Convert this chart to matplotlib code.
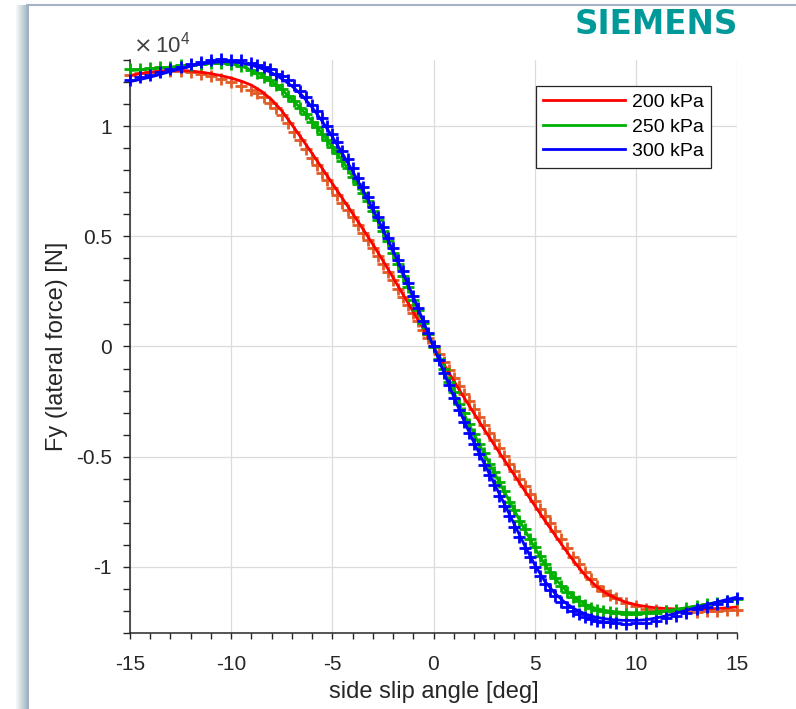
import numpy as np
import matplotlib
matplotlib.use('Agg')
import matplotlib.pyplot as plt
from matplotlib.ticker import MultipleLocator, FuncFormatter
from matplotlib.colors import LinearSegmentedColormap

plt.rcParams['font.family'] = ['Liberation Sans', 'DejaVu Sans']
plt.rcParams['axes.unicode_minus'] = False

# side slip angle of the fitted curves [deg]
slip = np.arange(-15.0, 15.01, 0.5)

# side slip angle of the measured points [deg] (denser where the force changes fast)
slip_meas = np.concatenate([np.arange(-15.0, -8.9, 0.5),
                            [-8.7, -8.4, -8.1, -7.8, -7.5, -7.2, -6.9, -6.6, -6.3],
                            np.arange(-6.0, 6.01, 0.25),
                            [6.3, 6.6, 6.9, 7.2, 7.5, 7.8, 8.1, 8.4, 8.7],
                            np.arange(9.0, 15.01, 0.5)])

# fitted curves, lateral force in kN
fit_200 = [12.30, 12.38, 12.45, 12.50, 12.53, 12.53, 12.50, 12.45, 12.38, 12.29,
           12.18, 12.04, 11.86, 11.58, 11.20, 10.70, 10.07, 9.42, 8.76, 8.08,
           7.40, 6.72, 6.04, 5.35, 4.64, 3.90, 3.13, 2.35, 1.57, 0.79,
           0.00, -0.78, -1.55, -2.30, -3.03, -3.75, -4.46, -5.15, -5.84, -6.53,
           -7.21, -7.89, -8.55, -9.20, -9.82, -10.38, -10.84, -11.18, -11.42, -11.60,
           -11.72, -11.80, -11.86, -11.89, -11.91, -11.92, -11.92, -11.91, -11.89, -11.86,
           -11.82]
fit_250 = [12.52, 12.55, 12.59, 12.63, 12.68, 12.73, 12.77, 12.81, 12.84, 12.85,
           12.82, 12.72, 12.55, 12.32, 12.02, 11.66, 11.22, 10.74, 10.22, 9.66,
           9.06, 8.42, 7.73, 6.98, 6.15, 5.24, 4.25, 3.21, 2.15, 1.08,
           0.00, -1.06, -2.08, -3.05, -3.97, -4.85, -5.72, -6.58, -7.45, -8.30,
           -9.12, -9.88, -10.52, -11.03, -11.42, -11.70, -11.88, -11.98, -12.04, -12.07,
           -12.08, -12.07, -12.04, -11.99, -11.93, -11.85, -11.77, -11.69, -11.61, -11.53,
           -11.45]
fit_300 = [12.02, 12.12, 12.22, 12.35, 12.48, 12.60, 12.72, 12.82, 12.88, 12.92,
           12.92, 12.87, 12.77, 12.62, 12.42, 12.15, 11.82, 11.40, 10.85, 10.22,
           9.52, 8.76, 7.96, 7.12, 6.24, 5.32, 4.36, 3.34, 2.26, 1.14,
           0.00, -1.15, -2.28, -3.36, -4.36, -5.30, -6.22, -7.14, -8.08, -9.02,
           -9.90, -10.65, -11.20, -11.62, -11.92, -12.14, -12.28, -12.36, -12.41, -12.43,
           -12.43, -12.40, -12.32, -12.22, -12.10, -11.97, -11.84, -11.72, -11.60, -11.48,
           -11.37]

# measured points, lateral force in kN
meas_200 = [12.33, 12.40, 12.44, 12.52, 12.51, 12.50, 12.44, 12.36, 12.27, 12.14, 12.00, 11.84, 11.64,
            11.49, 11.30, 11.07, 10.80, 10.50, 10.12, 9.74, 9.35, 8.96,
            8.57, 8.22, 7.88, 7.56, 7.21, 6.86, 6.52, 6.20, 5.86, 5.51, 5.17, 4.81, 4.48,
            4.09, 3.75, 3.36, 3.00, 2.62, 2.25, 1.88, 1.51, 1.14, 0.77, 0.38, 0.02,
            -0.36, -0.72, -1.08, -1.44, -1.79, -2.14, -2.49, -2.84, -3.20, -3.55, -3.92, -4.26,
            -4.62, -4.95, -5.31, -5.64, -6.00, -6.33, -6.68, -7.01, -7.36, -7.69, -8.03, -8.36,
            -8.75, -9.14, -9.53, -9.88, -10.25, -10.56, -10.85, -11.08, -11.28,
            -11.42, -11.63, -11.78, -11.89, -11.96, -12.00, -12.02, -12.04, -12.03, -12.02, -12.00, -11.97, -11.94]
meas_250 = [12.57, 12.58, 12.64, 12.66, 12.70, 12.77, 12.79, 12.84, 12.86, 12.88, 12.84, 12.75, 12.56,
            12.43, 12.25, 12.10, 11.86, 11.68, 11.38, 11.14, 10.82, 10.55,
            10.20, 9.96, 9.64, 9.38, 9.04, 8.76, 8.40, 8.10, 7.71, 7.38, 6.96, 6.59, 6.13,
            5.72, 5.22, 4.77, 4.23, 3.75, 3.19, 2.70, 2.13, 1.64, 1.06, 0.56, -0.02,
            -0.55, -1.04, -1.59, -2.06, -2.59, -3.03, -3.53, -3.95, -4.43, -4.83, -5.31, -5.70,
            -6.17, -6.56, -7.04, -7.43, -7.90, -8.28, -8.73, -9.10, -9.52, -9.86, -10.22, -10.50,
            -10.85, -11.12, -11.37, -11.56, -11.73, -11.85, -11.94, -12.00, -12.05,
            -12.09, -12.12, -12.13, -12.11, -12.08, -12.02, -11.96, -11.87, -11.79, -11.70, -11.62, -11.54, -11.46]
meas_300 = [12.10, 12.21, 12.30, 12.45, 12.57, 12.70, 12.82, 12.93, 12.99, 13.03, 13.02, 12.98, 12.88,
            12.79, 12.69, 12.57, 12.38, 12.27, 12.07, 11.87, 11.61, 11.31,
            10.98, 10.68, 10.35, 10.01, 9.65, 9.28, 8.89, 8.49, 8.09, 7.66, 7.24, 6.79, 6.35,
            5.88, 5.42, 4.93, 4.45, 3.93, 3.41, 2.86, 2.31, 1.74, 1.17, 0.59, 0.01,
            -0.60, -1.18, -1.76, -2.32, -2.87, -3.42, -3.92, -4.43, -4.90, -5.37, -5.84, -6.30,
            -6.77, -7.23, -7.71, -8.18, -8.66, -9.13, -9.57, -10.01, -10.40, -10.77, -11.05, -11.33,
            -11.58, -11.81, -11.99, -12.15, -12.28, -12.36, -12.44, -12.48, -12.52,
            -12.55, -12.57, -12.56, -12.53, -12.45, -12.34, -12.21, -12.07, -11.93, -11.80, -11.67, -11.54, -11.42]

labels = ['200 kPa', '250 kPa', '300 kPa']
line_colors = ['#ff0000', '#00b000', '#0000ff']
mark_colors = ['#e25a24', '#00b000', '#0000ff']

fig = plt.figure(figsize=(7.96, 7.09), dpi=100)

# slide frame decoration
bg = fig.add_axes([0, 0, 1, 1], zorder=-1)
shade = LinearSegmentedColormap.from_list('shade', ['#f6f9f9', '#a6bcc3'])
bg.imshow(np.linspace(0, 1, 32)[None, :], cmap=shade, aspect='auto',
          extent=(16, 27, 709, 5))
bg.plot([27.5, 27.5], [5, 709], color='#8c9fbf', lw=1.2)
bg.plot([27, 796], [5, 5], color='#a3b2c6', lw=1.5)
bg.set_xlim(0, 796)
bg.set_ylim(709, 0)
bg.axis('off')

fig.text(738 / 796, 1 - 8 / 709, 'SIEMENS', ha='right', va='top',
         color='#009999', fontsize=23.5, fontweight='bold', family='DejaVu Sans')

ax = fig.add_axes([130 / 796, 1 - 633 / 709, 607 / 796, 573 / 709])

fits = [fit_200, fit_250, fit_300]
meas = [meas_200, meas_250, meas_300]
for k in range(3):
    ax.plot(slip_meas, np.array(meas[k]) * 1e3, '+', color=mark_colors[k],
            markersize=9, markeredgewidth=2.0, zorder=2 + 2 * k, clip_on=False)
    ax.plot(slip, np.array(fits[k]) * 1e3, '-', color=line_colors[k],
            lw=2.0, label=labels[k], zorder=3 + 2 * k)

ax.set_xlim(-15, 15)
ax.set_ylim(-1.3e4, 1.3e4)
ax.xaxis.set_major_locator(MultipleLocator(5))
ax.xaxis.set_minor_locator(MultipleLocator(1))
ax.yaxis.set_major_locator(MultipleLocator(5000))
ax.yaxis.set_minor_locator(MultipleLocator(1000))
ax.yaxis.set_major_formatter(FuncFormatter(lambda v, p: '%g' % (v / 1e4)))

ax.grid(True, which='major', color='#dcdcdc', lw=0.9)
ax.set_axisbelow(True)
for s in ['top', 'right']:
    ax.spines[s].set_visible(False)
for s in ['left', 'bottom']:
    ax.spines[s].set_color('#262626')
    ax.spines[s].set_linewidth(1.1)

ax.tick_params(which='both', direction='out', color='#262626', width=1.0,
               labelcolor='#262626', labelsize=15)
ax.tick_params(axis='x', which='both', length=4, pad=12)
ax.tick_params(axis='y', which='both', length=5, pad=8)

ax.set_xlabel('side slip angle [deg]', fontsize=17, color='#262626', labelpad=5)
ax.set_ylabel('Fy (lateral force) [N]', fontsize=17, color='#262626', labelpad=6)

fig.text(133 / 796, 1 - 57 / 709, r'$\times\,\mathdefault{10^{4}}$', ha='left',
         va='bottom', fontsize=16, color='#404040')

leg = ax.legend(loc='upper right', bbox_to_anchor=((711 - 130) / 607, (633 - 86) / 573),
                borderaxespad=0, fontsize=14, handlelength=4.2, handletextpad=0.35,
                labelspacing=0.36, borderpad=0.38, fancybox=False, framealpha=1)
leg.get_frame().set_edgecolor('#262626')
leg.get_frame().set_linewidth(0.9)

fig.savefig('out.png', dpi=100)
